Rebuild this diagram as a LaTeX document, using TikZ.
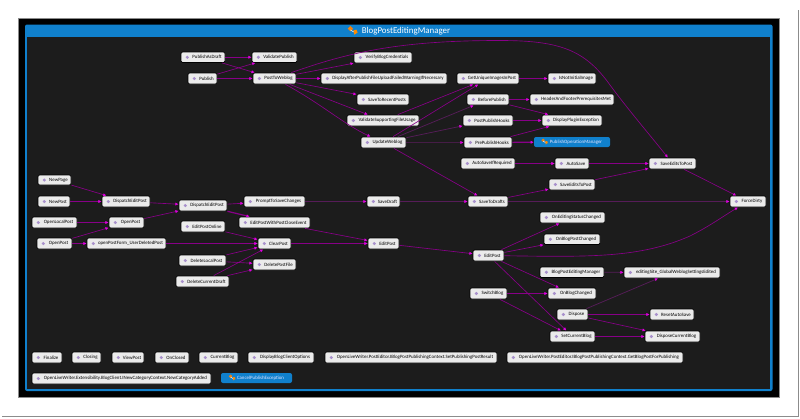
\documentclass[tikz,border=0pt]{standalone}
\usepackage{fontspec}
\setmainfont{Carlito}
\usetikzlibrary{arrows.meta}
\definecolor{bgdark}{HTML}{1C1C1C}
\definecolor{blueh}{HTML}{1080CC}
\definecolor{edgep}{HTML}{880088}
\definecolor{edged}{HTML}{561C58}
\definecolor{tipc}{HTML}{E000E0}
\definecolor{boxf}{HTML}{EBEBEB}
\definecolor{dotc}{HTML}{A890CC}
\definecolor{haloc}{HTML}{1F3F24}
\tikzset{
  x=1pt,y=-1pt,
  boxnode/.style={draw=black,line width=.8pt,fill=boxf,rounded corners=1.4pt,inner sep=0pt,text=black,font=\fontsize{4.9}{5}\selectfont},
  bluenode/.style={fill=blueh,rounded corners=2pt,inner sep=0pt,text=white!90!blue,font=\fontsize{4.9}{5}\selectfont},
  conn/.style={draw=edgep,line width=.65pt,-{Latex[length=3.2pt,width=3.2pt,color=tipc]}},
  conndim/.style={conn,draw=edged,line width=.75pt},
  connthick/.style={conn,line width=1.2pt},
  conndimthick/.style={conn,draw=edged,line width=1.1pt},
  connfaint/.style={conn,draw=edged!70!bgdark,line width=.9pt,dash pattern=on 1.5pt off .5pt},
  connhalo/.style={conn,line width=.45pt,preaction={draw=haloc,line width=1.3pt,-}},
}
\newcommand{\nd}[6]{%
  \pgfmathsetmacro{\cxa}{(#2+#3)/2}\pgfmathsetmacro{\cya}{(#4+#5)/2}%
  \pgfmathsetmacro{\wa}{#3-#2}\pgfmathsetmacro{\ha}{#5-#4}%
  \node[boxnode,minimum width=\wa pt,minimum height=\ha pt] (#1) at (\cxa,\cya) {\hspace*{8pt}#6};
  \fill[dotc] (#2+6.3,\cya) circle (1.7pt);
}
\newcommand{\icn}[3]{%
  \begin{scope}[shift={(#1,#2)},scale=#3]
  \fill[orange!80!brown] (-3.2,-1.2) -- (-1.4,-3) -- (.4,-1.2) -- (-1.4,.6) -- cycle;
  \fill[orange!90!yellow] (.6,0) -- (2.6,-.6) -- (3.4,1.4) -- (1.2,2.8) -- cycle;
  \draw[white,line width=.5pt] (-1.4,-.4) -- (.8,1);
  \end{scope}
}
\begin{document}
\begin{tikzpicture}
\useasboundingbox (0,0) rectangle (800,418);
% page and shadow
\fill[white] (0,0) rectangle (800,418);
\fill[black!45] (797.5,10) rectangle (799,416.5);
\fill[black!45] (2,415.5) rectangle (799,416.8);
% frame
\fill[black!8!bgdark,draw=black!45,line width=.7pt] (18.5,18.5) rectangle (779,397);
\fill[black] (19,19) rectangle (778.5,396.5);
% group
\fill[blueh,rounded corners=2pt] (25,24.5) rectangle (772.5,391);
\fill[bgdark] (27.3,36.7) rectangle (770.2,389);
\icn{352.5}{30.5}{1.5}
\node[text=white,font=\fontsize{8.9}{9}\selectfont,inner sep=0pt] (title) at (406,31) {BlogPostEditingManager};
% nodes
\nd{pad}{181}{225}{52}{62.5}{PublishAsDraft}
\nd{vp}{252}{297}{52}{62.5}{ValidatePublish}
\nd{pub}{188}{217}{73}{84}{Publish}
\nd{ptw}{253}{296}{73}{84}{PostToWeblog}
\nd{vbc}{354}{412}{52}{63}{VerifyBlogCredentials}
\nd{dap}{321}{447}{73}{84}{DisplayAfterPublishFileUploadFailedWarningIfNecessary}
\nd{srp}{357}{409}{94}{105}{SaveToRecentPosts}
\nd{vsf}{347}{419}{115}{126}{ValidateSupportingFileUsage}
\nd{uw}{361}{406}{137}{148}{UpdateWeblog}
\nd{gui}{457}{519}{73}{84}{GetUniqueImagesInPost}
\nd{ini}{548}{596}{73}{84}{IsNotInitialImage}
\nd{bp}{467}{509}{94}{105}{BeforePublish}
\nd{hfp}{530}{614}{94}{105}{HeaderAndFooterPrerequisitesMet}
\nd{pph}{463}{513}{115}{126}{PostPublishHooks}
\nd{dpe}{542}{602}{115}{126}{DisplayPluginException}
\nd{prh}{464}{512}{137}{148}{PrePublishHooks}
\node[bluenode,minimum width=76pt,minimum height=10pt] (pom) at (572,142) {\hspace*{8pt}PublishOperationManager};
\icn{544.5}{141.5}{1}
\nd{asr}{461}{515}{158}{169}{AutoSaveIfRequired}
\nd{as}{555}{589}{158}{169}{AutoSave}
\nd{sep}{649}{696}{158}{169}{SaveEditsToPost}
\nd{sepb}{549}{595}{179}{190}{SaveEditsToPost}
\nd{std}{468}{508}{196}{207}{SaveToDrafts}
\nd{fd}{730}{766}{196}{207}{ForceDirty}
\nd{npg}{38}{71}{175}{185}{NewPage}
\nd{npo}{38}{70}{196}{207}{NewPost}
\nd{dea}{102}{150}{196}{207}{DispatchEditPost}
\nd{deb}{179}{227}{200}{211}{DispatchEditPost}
\nd{ptc}{244}{305}{196}{207}{PromptToSaveChanges}
\nd{sd}{367}{400}{196}{207}{SaveDraft}
\nd{epc}{239}{310}{217}{228}{EditPostWithPostCloseEvent}
\nd{olp}{32}{77}{217}{228}{OpenLocalPost}
\nd{opa}{109}{144}{217}{228}{OpenPost}
\nd{epo}{181}{225}{221}{232}{EditPostOnline}
\nd{opb}{37}{72}{238}{249}{OpenPost}
\nd{opf}{87}{166}{238}{249}{openPostForm\_UserDeletedPost}
\nd{cp}{258}{291}{238}{249}{ClearPost}
\nd{eda}{368}{399}{238}{249}{EditPost}
\nd{dlp}{179}{226}{255}{266}{DeleteLocalPost}
\nd{dpf}{253}{296}{259}{270}{DeletePostFile}
\nd{dcd}{176}{229}{276}{287}{DeleteCurrentDraft}
\nd{oes}{540}{605}{212}{223}{OnEditingStatusChanged}
\nd{obp}{544}{600}{234}{244.5}{OnBlogPostChanged}
\nd{edb}{473}{504}{250}{261}{EditPost}
\nd{bpm}{540}{604}{267}{277.5}{BlogPostEditingManager}
\nd{egs}{624}{720}{267}{278}{editingSite\_GlobalWeblogSettingsEdited}
\nd{sb}{470}{507}{288}{299}{SwitchBlog}
\nd{obc}{548}{596}{288}{299}{OnBlogChanged}
\nd{dis}{557}{588}{309}{320}{Dispose}
\nd{ras}{650}{694}{309}{320}{ResetAutoSave}
\nd{scb}{550}{595}{331}{342}{SetCurrentBlog}
\nd{dcb}{645}{700}{331}{342}{DisposeCurrentBlog}
\nd{fin}{32}{62}{352}{363}{Finalize}
\nd{clo}{72}{101}{352}{363}{Closing}
\nd{vw}{112}{144}{352}{363}{ViewPost}
\nd{onc}{155}{189}{352}{363}{OnClosed}
\nd{cb}{199}{238}{352}{363}{CurrentBlog}
\nd{dbc}{248}{314}{352}{363}{DisplayBlogClientOptions}
\nd{set}{325}{497}{352}{363}{OpenLiveWriter.PostEditor.IBlogPostPublishingContext.SetPublishingPostResult}
\nd{get}{507}{683}{352}{363}{OpenLiveWriter.PostEditor.IBlogPostPublishingContext.GetBlogPostForPublishing}
\nd{ncc}{32}{211}{373}{384}{OpenLiveWriter.Extensibility.BlogClient.INewCategoryContext.NewCategoryAdded}
\node[bluenode,minimum width=71pt,minimum height=10pt] (cpe) at (256.5,378) {\hspace*{8pt}CancelPublishException};
\icn{232}{377.5}{1}
% connectors
\coordinate (topa) at (500,40.5);
\draw[conn] (pad) -- (vp);
\draw[conn] (pad) -- (ptw);
\draw[conn] (pub) -- (vp);
\draw[conn] (pub) -- (ptw);
\draw[conn] (ptw) -- (vbc);
\draw[conn] (ptw) -- (dap);
\draw[conn] (ptw) -- (srp);
\draw[conn] (ptw) -- (vsf);
\draw[conn] (ptw) .. controls (320,103) and (345,125) .. (uw);
\draw[conn] (ptw) .. controls (350,52) and (400,40.5) .. (topa) .. controls (560,40.5) and (585,50) .. (610,85) .. controls (630,112) and (650,135) .. (sep);
\draw[conn] (vsf) -- (gui);
\draw[conn] (uw) -- (gui);
\draw[conndim] (uw) -- (bp);
\draw[conndim] (uw) -- (pph);
\draw[connfaint] (uw) -- (prh);
\draw[conn] (uw) -- (std);
\draw[conn] (gui) -- (ini);
\draw[conn] (bp) -- (hfp);
\draw[conn] (bp) -- (dpe);
\draw[conn] (pph) -- (dpe);
\draw[conn] (prh) -- (dpe);
\draw[connthick] (prh) -- (pom);
\draw[connhalo] (asr) -- (as);
\draw[connhalo] (as) -- (sep);
\draw[conn] (sepb) -- (sep);
\draw[conn] (std) -- (sepb);
\draw[conndimthick] (std) -- (fd);
\draw[conn] (sep) -- (fd);
\draw[conndimthick] (sd) -- (std);
\draw[conndimthick] (ptc) -- (sd);
\draw[conn] (npg) -- (dea);
\draw[conn] (npo) -- (dea);
\draw[conn] (dea) -- (deb);
\draw[conn] (olp) -- (opa);
\draw[conn] (opb) -- (opa);
\draw[conn] (opb) -- (opf);
\draw[conn] (opa) -- (deb);
\draw[conn] (deb) -- (ptc);
\draw[connthick] (deb) -- (epc);
\draw[conn] (epc) -- (eda);
\draw[connhalo] (opf) -- (cp);
\draw[conn] (epo) -- (cp);
\draw[conn] (dlp) -- (cp);
\draw[conn] (dlp) -- (dpf);
\draw[conn] (dcd) -- (cp);
\draw[conn] (dcd) -- (dpf);
\draw[connhalo] (cp) -- (eda);
\draw[conn] (eda) -- (edb);
\draw[conn] (edb) -- (oes);
\draw[conn] (edb) -- (obp);
\draw[conn] (edb) .. controls (590,257) and (640,258) .. (690,236) .. controls (710,226) and (725,215) .. (fd);
\draw[conn] (edb) -- (obc);
\draw[conn] (edb) -- (scb);
\draw[conndim] (bpm) -- (egs);
\draw[conn] (sb) -- (obc);
\draw[conn] (sb) -- (scb);
\draw[conndim] (dis) -- (egs);
\draw[connthick] (dis) -- (ras);
\draw[conn] (dis) -- (dcb);
\draw[connthick] (scb) -- (dcb);
\end{tikzpicture}
\end{document}
